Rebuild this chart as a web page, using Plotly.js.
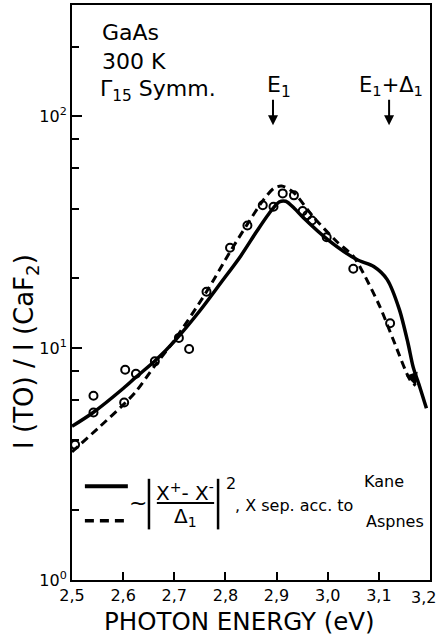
<!DOCTYPE html>
<html>
<head>
<meta charset="utf-8">
<script src="https://cdn.plot.ly/plotly-3.0.1.min.js"></script>
<style>html,body{margin:0;padding:0;background:#fff;}#chart{width:439px;height:637px;}</style>
</head>
<body>
<div id="chart"></div>
<script>
// Kane (solid) model curve
const kaneE = [2.5, 2.54, 2.6, 2.625, 2.662, 2.7, 2.75, 2.79, 2.83, 2.86, 2.885, 2.905, 2.918, 2.935, 2.952, 3.0, 3.057, 3.09, 3.116, 3.14, 3.157, 3.167, 3.18, 3.193];
const kaneV = [4.6, 5.25, 6.7, 7.5, 8.8, 10.7, 14.5, 19.0, 25.0, 31.6, 38.0, 42.7, 43.0, 40.0, 36.6, 29.4, 24.1, 22.5, 19.8, 14.7, 10.5, 8.3, 6.8, 5.5];
// Aspnes (dashed) model curve
const aspE = [2.5, 2.555, 2.602, 2.625, 2.662, 2.7, 2.763, 2.809, 2.842, 2.874, 2.895, 2.91, 2.933, 2.971, 3.017, 3.05, 3.069, 3.102, 3.128, 3.161, 3.172];
const aspV = [3.57, 4.6, 5.75, 6.5, 8.4, 10.8, 17.5, 26.0, 34.0, 43.5, 49.0, 50.0, 47.0, 37.0, 28.9, 24.9, 21.2, 15.1, 10.9, 7.3, 6.9];
// Measured points (open circles)
const obsE = [2.506, 2.542, 2.542, 2.604, 2.602, 2.625, 2.662, 2.709, 2.729, 2.763, 2.809, 2.843, 2.873, 2.894, 2.912, 2.934, 2.951, 2.960, 2.969, 2.998, 3.050, 3.122];
const obsV = [3.83, 6.23, 5.28, 8.07, 5.83, 7.76, 8.77, 11.07, 9.92, 17.5, 27.1, 33.8, 41.3, 40.7, 46.5, 45.6, 39.0, 37.4, 35.5, 30.1, 22.0, 12.8];
// Axis ticks
const xTickVals = [2.5, 2.6, 2.7, 2.8, 2.9, 3.0, 3.1, 3.2];
const xTickText = ['2,5', '2,6', '2,7', '2,8', '2,9', '3,0', '3,1', '3,2'];
const yTickVals = [1, 10, 100];
const yTickText = ['10<sup>0</sup>', '10<sup>1</sup>', '10<sup>2</sup>'];
const yMinorVals = [2, 4, 6, 8, 20, 40, 60, 80, 200];
// Transition energies
const E1 = 2.893, E1D1 = 3.12;

const FONT = 'DejaVu Sans, sans-serif';
const traces = [
  {x: kaneE, y: kaneV, mode: 'lines', line: {color: '#000', width: 3.5, shape: 'spline', smoothing: 0.8}, hoverinfo: 'skip'},
  {x: aspE, y: aspV, mode: 'lines', line: {color: '#000', width: 3, dash: '8px,5px', shape: 'spline', smoothing: 0.8}, hoverinfo: 'skip'},
  {x: obsE, y: obsV, mode: 'markers', marker: {symbol: 'circle-open', size: 8, color: '#000', line: {width: 2, color: '#000'}}, hoverinfo: 'skip'}
];

const txt = (text, x, y, size, xanchor, yanchor, extra) => Object.assign({
  text: text, x: x, y: y, xref: 'paper', yref: 'paper', showarrow: false,
  xanchor: xanchor || 'left', yanchor: yanchor || 'middle', font: {family: FONT, size: size, color: '#000'}
}, extra || {});

// last x tick label is drawn as an annotation so it stays inside the picture
const nLast = xTickVals.length - 1;
const shownTickText = xTickText.map((t, i) => i === nLast ? '' : t);

const lastE = aspE[aspE.length - 1], lastV = aspV[aspV.length - 1];
const annotations = [
  txt('GaAs', 0.078, 0.953, 22),
  txt('300 K', 0.078, 0.901, 22),
  txt('Γ<sub>15</sub> Symm.', 0.072, 0.852, 22),
  txt('E<sub>1</sub>', 0.539, 0.859, 22),
  txt('E<sub>1</sub>+Δ<sub>1</sub>', 0.797, 0.859, 21),
  {x: E1, y: 0.791, xref: 'x', yref: 'paper', ax: 0, ay: -27, text: '', showarrow: true, arrowhead: 2, arrowsize: 1, arrowwidth: 2, arrowcolor: '#000'},
  {x: E1D1, y: 0.791, xref: 'x', yref: 'paper', ax: 0, ay: -27, text: '', showarrow: true, arrowhead: 2, arrowsize: 1, arrowwidth: 2, arrowcolor: '#000'},
  // arrowhead closing the dashed curve
  {x: lastE, y: Math.log10(lastV), xref: 'x', yref: 'y', ax: -3, ay: -9, text: '', showarrow: true, arrowhead: 2, arrowsize: 1, arrowwidth: 2.5, arrowcolor: '#000'},
  // last x tick label
  {x: xTickVals[nLast], y: -0.0296, xref: 'x', yref: 'paper', xanchor: 'right', yanchor: 'middle', xshift: 8, showarrow: false,
   text: xTickText[nLast], font: {family: FONT, size: 16, color: '#000'}},
  // legend formula
  txt('~', 0.184, 0.134, 22, 'center'),
  txt('X<sup>+</sup>- X<sup>-</sup>', 0.316, 0.153, 20, 'center'),
  txt('Δ<sub>1</sub>', 0.316, 0.110, 20, 'center'),
  txt('2', 0.425, 0.168, 16, 'left'),
  txt(', X sep. acc. to', 0.45, 0.130, 16, 'left'),
  txt('Kane', 0.81, 0.172, 16, 'left'),
  txt('Aspnes', 0.99, 0.101, 16, 'right'),
  // axis titles
  txt('I (TO) / I (CaF<sub>2</sub>)', -0.128, 0.397, 26, 'center', 'middle', {textangle: -90}),
  txt('PHOTON ENERGY (eV)', 0.469, -0.073, 24.5, 'center', 'middle')
];

const ln = (x0, y0, x1, y1, w, dash) => ({type: 'line', xref: 'paper', yref: 'paper', x0: x0, y0: y0, x1: x1, y1: y1, line: {color: '#000', width: w, dash: dash || 'solid'}});
const shapes = [
  ln(0.036, 0.163, 0.156, 0.163, 4),
  ln(0.036, 0.103, 0.156, 0.103, 3.5, '9px,6px'),
  ln(0.215, 0.176, 0.215, 0.088, 2.5),
  ln(0.408, 0.176, 0.408, 0.088, 2.5),
  ln(0.237, 0.134, 0.397, 0.134, 2)
];

const axisCommon = {
  showline: true, linecolor: '#000', linewidth: 2, mirror: true,
  showgrid: false, zeroline: false, ticks: 'inside', tickcolor: '#000', tickwidth: 2,
  tickfont: {family: FONT, size: 16, color: '#000'}
};

const layout = {
  width: 439, height: 637,
  margin: {l: 72, r: 9, t: 5, b: 57},
  paper_bgcolor: '#fff', plot_bgcolor: '#fff',
  showlegend: false,
  xaxis: Object.assign({}, axisCommon, {
    range: [2.5, 3.2], tickmode: 'array', tickvals: xTickVals, ticktext: shownTickText, ticklen: 8
  }),
  yaxis: Object.assign({}, axisCommon, {
    type: 'log', range: [0, 2.48], tickmode: 'array', tickvals: yTickVals, ticktext: yTickText, ticklen: 10,
    minor: {tickmode: 'array', tickvals: yMinorVals, ticks: 'inside', ticklen: 7, tickwidth: 2, tickcolor: '#000', showgrid: false}
  }),
  annotations: annotations,
  shapes: shapes
};

Plotly.newPlot('chart', traces, layout, {staticPlot: true, displayModeBar: false});
</script>
</body>
</html>
